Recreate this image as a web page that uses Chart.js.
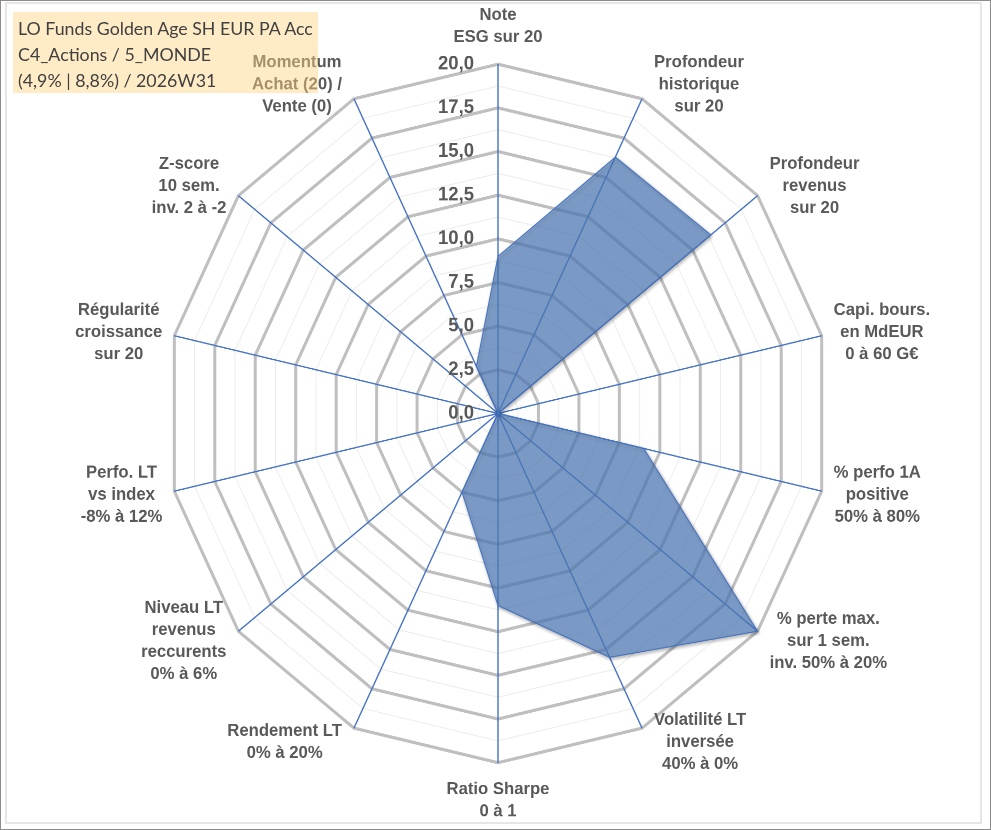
<!DOCTYPE html>
<html lang="fr">
<head>
<meta charset="utf-8">
<title>LO Funds Golden Age SH EUR PA Acc</title>
<script src="https://cdn.jsdelivr.net/npm/chart.js@4.4.1/dist/chart.umd.min.js"></script>
<style>
  html, body { margin: 0; padding: 0; background: #fff; }
  #page { position: relative; width: 991px; height: 830px; box-sizing: border-box; border: 1px solid #8c8c8c; overflow: hidden; }
  #frame { position: absolute; left: 4px; top: 1px; width: 977px; height: 822px; border: 2px solid #e6e6e6; box-sizing: border-box; }
  /* the reference plot is a bit taller than wide, so the canvas is stretched vertically */
  #stretch { position: absolute; left: -1px; top: -1px; width: 991px; height: 789px; transform: scaleY(1.052); transform-origin: 0 0; }
  #title { position: absolute; left: 12px; top: 11px; width: 305px; height: 81px; background: rgba(255, 213, 128, 0.45);
           font: 17.8px Lato, sans-serif; color: #404040; line-height: 26px; padding: 3px 5px 0 5px; box-sizing: border-box; white-space: nowrap; }
</style>
</head>
<body>
<div id="page">
  <div id="frame"></div>
  <div id="stretch"><canvas id="radar" width="991" height="789"></canvas></div>
  <div id="title">LO Funds Golden Age SH EUR PA Acc<br>C4_Actions / 5_MONDE<br>(4,9% | 8,8%) / 2026W31</div>
</div>
<script>
const axisLabels = [
  ['Note', 'ESG sur 20'],
  ['Profondeur', 'historique', 'sur 20'],
  ['Profondeur', 'revenus', 'sur 20'],
  ['Capi. bours.', 'en MdEUR', '0 à 60 G€'],
  ['% perfo 1A', 'positive', '50% à 80%'],
  ['% perte max.', 'sur 1 sem.', 'inv. 50% à 20%'],
  ['Volatilité LT', 'inversée', '40% à 0%'],
  ['Ratio Sharpe', '0 à 1'],
  ['Rendement LT', '0% à 20%'],
  ['Niveau LT', 'revenus', 'reccurents', '0% à 6%'],
  ['Perfo. LT', 'vs index', '-8% à 12%'],
  ['Régularité', 'croissance', 'sur 20'],
  ['Z-score', '10 sem.', 'inv. 2 à -2'],
  ['Momentum', 'Achat (20) /', 'Vente (0)']
];
const scores = [9.0, 16.3, 16.4, 0, 9.0, 20, 15.5, 11.0, 5.0, 0, 0, 0, 0, 3.0];
const tickValues = [0, 2.5, 5, 7.5, 10, 12.5, 15, 17.5, 20];
const tickLabels = ['0,0', '2,5', '5,0', '7,5', '10,0', '12,5', '15,0', '17,5', '20,0'];

const labelColor = '#595959';
const isMajor = v => Math.abs(v / 2.5 - Math.round(v / 2.5)) < 1e-6;

// soft shadow under the filled polygon
const shadowPlugin = {
  id: 'shadow',
  beforeDatasetsDraw(chart) {
    const ctx = chart.ctx;
    ctx.save();
    ctx.shadowColor = 'rgba(0, 0, 0, 0.4)';
    ctx.shadowBlur = 6;
    ctx.shadowOffsetX = 2;
    ctx.shadowOffsetY = 3;
  },
  afterDatasetsDraw(chart) {
    chart.ctx.restore();
  }
};

// axis titles and value labels, placed the way the spreadsheet does it
const labelsPlugin = {
  id: 'labels',
  afterDraw(chart) {
    const ctx = chart.ctx;
    const r = chart.scales.r;
    const lineH = 21;
    ctx.save();
    ctx.fillStyle = labelColor;
    ctx.textBaseline = 'middle';
    ctx.textAlign = 'center';

    ctx.font = "bold 16.7px 'Liberation Sans', Arial, sans-serif";
    axisLabels.forEach((lines, i) => {
      const a = r.getIndexAngle(i);
      const s = Math.sin(a), c = Math.cos(a);
      const w = Math.max(...lines.map(t => ctx.measureText(t).width));
      const h = lines.length * lineH;
      let cx, top;
      if (Math.abs(s) < 0.05) {
        const edge = r.getPointPosition(i, r.drawingArea);
        cx = edge.x;
        top = c > 0 ? edge.y - 15 - h : edge.y + 15;
      } else {
        const p = r.getPointPosition(i, r.drawingArea + 15);
        const edge = r.getPointPosition(i, r.drawingArea);
        cx = s > 0 ? edge.x + 12 + w / 2 : edge.x - 12 - w / 2;
        top = p.y - h / 2;
      }
      lines.forEach((t, k) => ctx.fillText(t, cx, top + lineH * (k + 0.5)));
    });

    ctx.font = "bold 18.5px 'Liberation Sans', Arial, sans-serif";
    ctx.textAlign = 'right';
    tickValues.forEach((v, k) => {
      const d = r.getDistanceFromCenterForValue(v);
      ctx.fillText(tickLabels[k], r.xCenter - 24, r.yCenter - d);
    });
    ctx.restore();
  }
};

new Chart(document.getElementById('radar').getContext('2d'), {
  type: 'radar',
  data: {
    labels: axisLabels,
    datasets: [{
      label: 'Score',
      data: scores,
      backgroundColor: 'rgba(86, 135, 202, 0.65)',
      borderColor: '#4472C4',
      borderWidth: 1,
      pointRadius: 0,
      fill: true
    }]
  },
  options: {
    responsive: false,
    animation: false,
    devicePixelRatio: 2,
    layout: { padding: { left: 166, right: 161, top: 61, bottom: 64 } },
    plugins: {
      legend: { display: false },
      tooltip: { enabled: false }
    },
    elements: { line: { tension: 0 } },
    scales: {
      r: {
        min: 0,
        max: 20,
        ticks: { stepSize: 1.25, display: false },
        pointLabels: { display: false },
        angleLines: { color: '#4472C4', lineWidth: 1.4 },
        grid: {
          color: ctx => isMajor(ctx.tick.value) ? '#BFBFBF' : '#EDEDED',
          lineWidth: ctx => isMajor(ctx.tick.value) ? 3 : 1
        }
      }
    }
  },
  plugins: [shadowPlugin, labelsPlugin]
});
</script>
</body>
</html>
